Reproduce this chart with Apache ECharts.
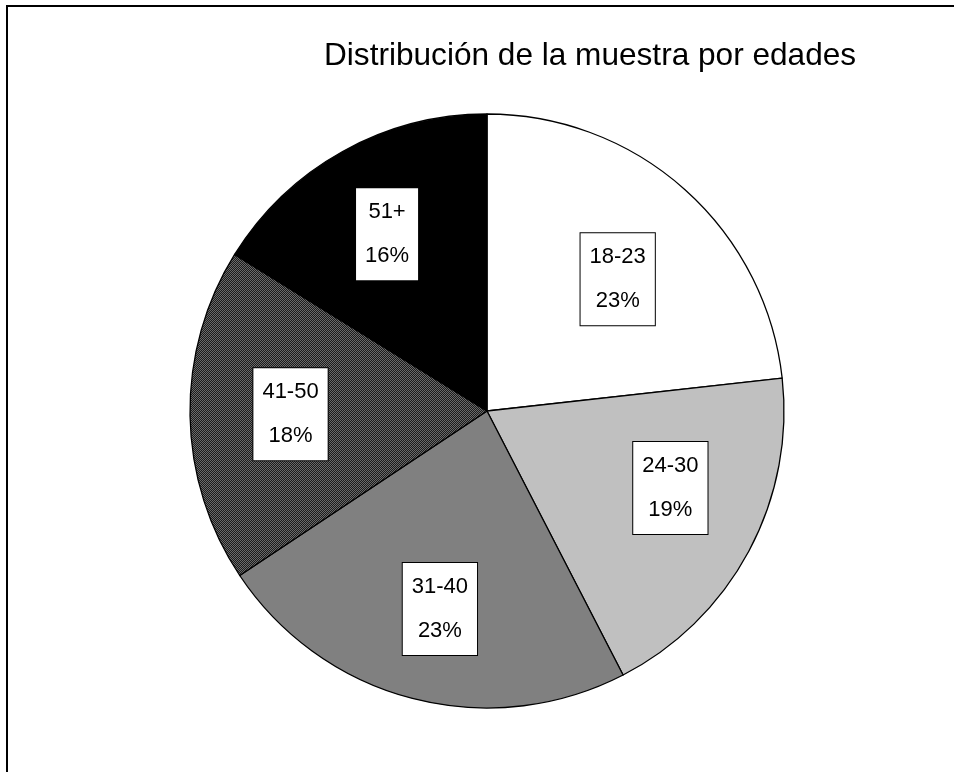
<!DOCTYPE html>
<html>
<head>
<meta charset="utf-8">
<script src="https://cdn.jsdelivr.net/npm/echarts@6/dist/echarts.min.js"></script>
<style>
html,body{margin:0;padding:0;background:#fff;}
#chart{width:954px;height:772px;}
</style>
</head>
<body>
<div id="chart"></div>
<script>
const titleText = 'Distribución de la muestra por edades';
const categories = ['18-23', '24-30', '31-40', '41-50', '51+'];
const values = [23, 19, 23, 18, 16];

function dotPattern() {
  const c = document.createElement('canvas');
  c.width = 2; c.height = 2;
  const g = c.getContext('2d');
  g.fillStyle = '#1c1c1c'; g.fillRect(0, 0, 2, 2);
  g.fillStyle = '#6a6a6a'; g.fillRect(0, 0, 1, 1); g.fillRect(1, 1, 1, 1);
  return c;
}
const fills = ['#ffffff', '#c0c0c0', '#808080', {image: dotPattern(), repeat: 'repeat'}, '#000000'];
const labelNudge = [[-5, 20], [4, -19], [4, 1], [7, 0], [-1, 1]];

const pieData = categories.map((n, i) => ({name: n, value: values[i], itemStyle: {color: fills[i]}}));
const labelData = categories.map((n, i) => ({name: n, value: values[i]}));

const chart = echarts.init(document.getElementById('chart'), null, {renderer: 'canvas'});
const R = 297;
chart.setOption({
  animation: false,
  backgroundColor: '#ffffff',
  title: {
    text: titleText,
    left: 324, top: 40, padding: 0,
    textStyle: {fontFamily: 'Liberation Sans, Arial, sans-serif', fontSize: 31.6, fontWeight: 'normal', color: '#000'}
  },
  graphic: [
    {type: 'line', shape: {x1: 6, y1: 6, x2: 954, y2: 6}, style: {stroke: '#000', lineWidth: 2}},
    {type: 'line', shape: {x1: 7, y1: 5, x2: 7, y2: 772}, style: {stroke: '#000', lineWidth: 2}}
  ],
  series: [
    {
      type: 'pie',
      center: [487, 411],
      radius: [0, R],
      startAngle: 90,
      clockwise: true,
      silent: true,
      label: {show: false},
      labelLine: {show: false},
      itemStyle: {borderColor: '#000', borderWidth: 1.3},
      data: pieData
    },
    {
      type: 'pie',
      center: [487, 411],
      radius: [Math.round(R * 0.35), R],
      startAngle: 90,
      clockwise: true,
      silent: true,
      itemStyle: {color: 'rgba(0,0,0,0)', borderWidth: 0},
      labelLine: {show: false},
      labelLayout: function (p) {
        const d = labelNudge[p.dataIndex] || [0, 0];
        return {x: p.labelRect.x + p.labelRect.width / 2 + d[0], y: p.labelRect.y + p.labelRect.height / 2 + d[1]};
      },
      label: {
        show: true,
        position: 'inside',
        formatter: '{b}\n{c}%',
        fontFamily: 'Liberation Sans, Arial, sans-serif',
        fontSize: 22,
        lineHeight: 44,
        color: '#000',
        backgroundColor: '#fff',
        borderColor: '#000',
        borderWidth: 1,
        padding: [1, 9, 3, 9],
        align: 'center'
      },
      data: labelData
    }
  ]
});
</script>
</body>
</html>
